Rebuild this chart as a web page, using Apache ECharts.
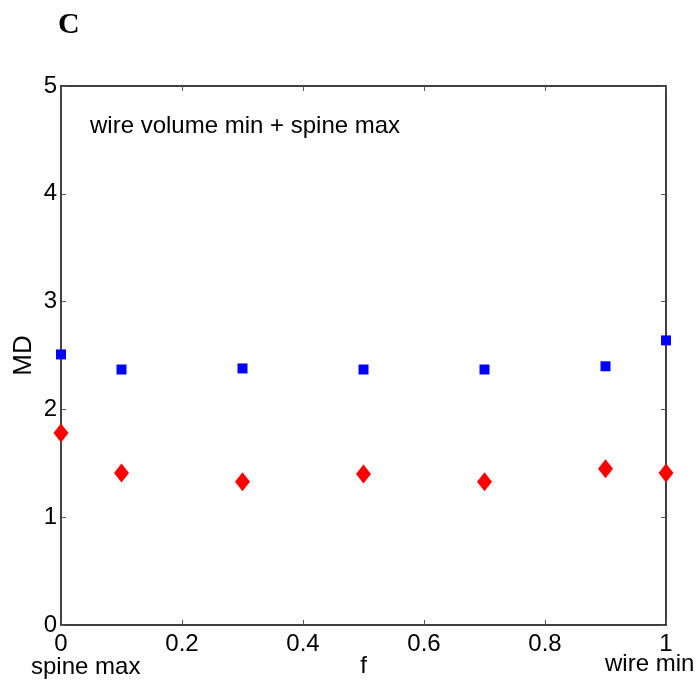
<!DOCTYPE html>
<html>
<head>
<meta charset="utf-8">
<script src="https://cdn.jsdelivr.net/npm/echarts@6/dist/echarts.min.js"></script>
<style>
html,body{margin:0;padding:0;background:#fff;}
#chart{width:697px;height:686px;}
</style>
</head>
<body>
<div id="chart"></div>
<script>
const fValues = [0, 0.1, 0.3, 0.5, 0.7, 0.9, 1];
const blueMD = [2.51, 2.37, 2.38, 2.37, 2.37, 2.40, 2.64];
const redMD = [1.78, 1.41, 1.33, 1.40, 1.33, 1.45, 1.41];
const panelLabel = 'C';
const annotation = 'wire volume min + spine max';
const leftEndLabel = 'spine max';
const rightEndLabel = 'wire min';

const FONT = '"Liberation Sans", Arial, Helvetica, sans-serif';
const fs = 24;

const chart = echarts.init(document.getElementById('chart'), null, {renderer: 'canvas'});

function pairs(xs, ys) { return xs.map((x, i) => [x, ys[i]]); }

const tickStyle = {show: true, inside: true, length: 5, lineStyle: {color: '#555', width: 1}};
const lineStyle = {color: '#000', width: 1.5};

chart.setOption({
  animation: false,
  backgroundColor: '#fff',
  grid: {left: 61, top: 86, right: 31, bottom: 61, containLabel: false, outerBoundsMode: 'none'},
  xAxis: [{
    type: 'value', min: 0, max: 1, interval: 0.2, position: 'bottom',
    name: 'f', nameLocation: 'middle', nameGap: 29, nameMoveOverlap: false,
    nameTextStyle: {fontFamily: FONT, fontSize: fs, color: '#000'},
    axisLine: {show: true, onZero: false, lineStyle: lineStyle},
    axisTick: tickStyle,
    splitLine: {show: false},
    axisLabel: {fontFamily: FONT, fontSize: fs, color: '#000', margin: 7}
  }, {
    type: 'value', min: 0, max: 1, interval: 0.2, position: 'top',
    axisLine: {show: true, onZero: false, lineStyle: lineStyle},
    axisTick: tickStyle, axisLabel: {show: false}, splitLine: {show: false}
  }],
  yAxis: [{
    type: 'value', min: 0, max: 5, interval: 1, position: 'left',
    name: 'MD', nameLocation: 'middle', nameGap: 24, nameRotate: 90, nameMoveOverlap: false,
    nameTextStyle: {fontFamily: FONT, fontSize: 26, color: '#000'},
    axisLine: {show: true, onZero: false, lineStyle: lineStyle},
    axisTick: tickStyle,
    splitLine: {show: false},
    axisLabel: {fontFamily: FONT, fontSize: fs, color: '#000', margin: 4}
  }, {
    type: 'value', min: 0, max: 5, interval: 1, position: 'right',
    axisLine: {show: true, onZero: false, lineStyle: lineStyle},
    axisTick: tickStyle, axisLabel: {show: false}, splitLine: {show: false}
  }],
  graphic: [
    {type: 'text', left: 58, top: 10, style: {text: panelLabel, font: 'bold 30px "Liberation Serif", "Times New Roman", serif', fill: '#000'}},
    {type: 'text', left: 90, top: 114, style: {text: annotation, font: fs + 'px ' + FONT, fill: '#000'}},
    {type: 'text', left: 31, top: 655, style: {text: leftEndLabel, font: fs + 'px ' + FONT, fill: '#000'}},
    {type: 'text', left: 605, top: 652, style: {text: rightEndLabel, font: fs + 'px ' + FONT, fill: '#000'}}
  ],
  series: [{
    type: 'scatter', xAxisIndex: 0, yAxisIndex: 0, clip: false,
    symbol: 'rect', symbolSize: [10, 10],
    itemStyle: {color: '#0000ff', opacity: 1},
    data: pairs(fValues, blueMD)
  }, {
    type: 'scatter', xAxisIndex: 0, yAxisIndex: 0, clip: false,
    symbol: 'diamond', symbolSize: [15, 19],
    itemStyle: {color: '#ff0000', opacity: 1},
    data: pairs(fValues, redMD)
  }]
});
</script>
</body>
</html>
